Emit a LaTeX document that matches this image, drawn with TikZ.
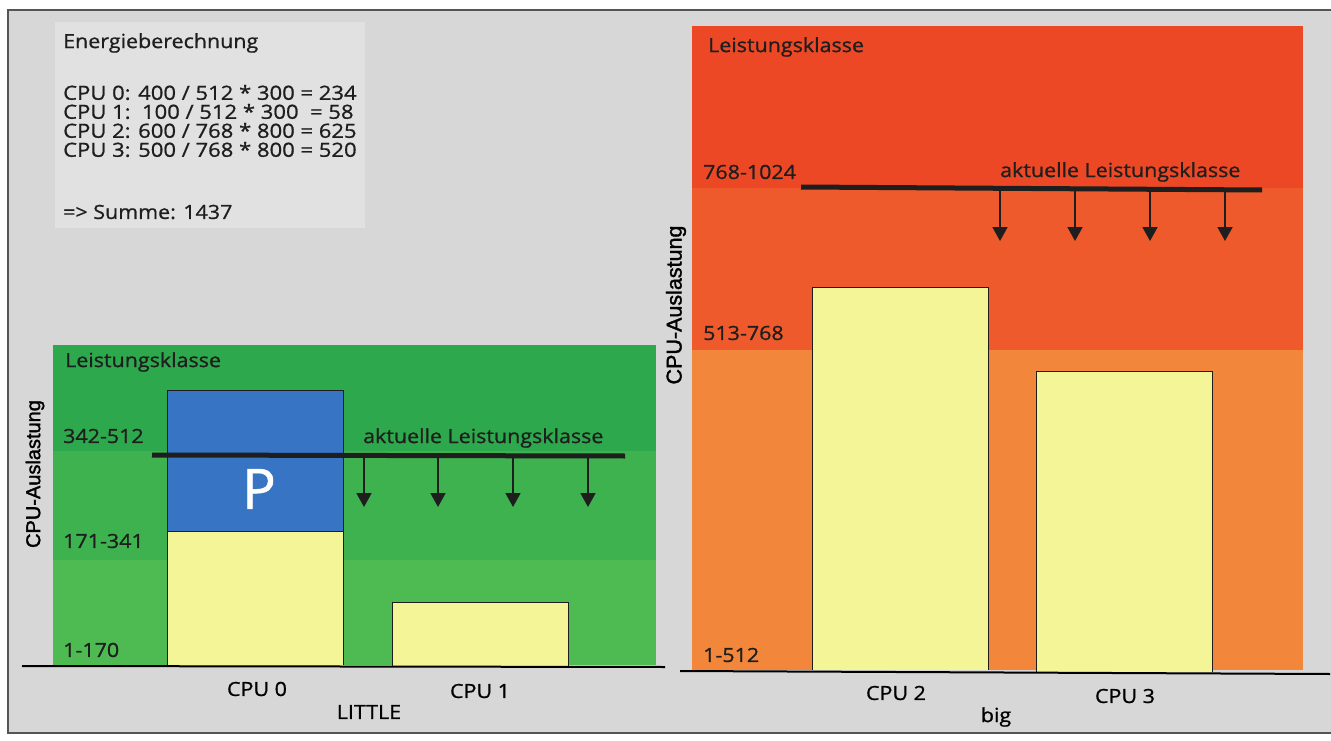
\documentclass[tikz,border=0pt]{standalone}
\usepackage{fontspec}
\setmainfont[FakeBold=0.9,FakeStretch=1.1]{Open Sans}
\newfontfamily\calcfont[FakeBold=0.9,FakeStretch=1.13]{Open Sans}
\newfontfamily\pfont[FakeBold=0.9]{Open Sans}
\newfontfamily\axisfont[FakeBold=1.6]{Liberation Sans}
\usetikzlibrary{arrows.meta}
\definecolor{bggray}{HTML}{D7D7D7}
\definecolor{boxgray}{HTML}{E1E1E1}
\definecolor{frame}{HTML}{555555}
\definecolor{gA}{HTML}{2EA84C}
\definecolor{gB}{HTML}{3DB24F}
\definecolor{gC}{HTML}{4DBB52}
\definecolor{oA}{HTML}{EC4826}
\definecolor{oB}{HTML}{EE5A2C}
\definecolor{oC}{HTML}{F2873C}
\definecolor{pblue}{HTML}{3774C4}
\definecolor{pyellow}{HTML}{F4F596}
\definecolor{ink}{HTML}{1E1E1E}
\tikzset{
  lbl/.style={anchor=west, inner sep=0pt, text=ink, font=\fontsize{19.5}{19.5}\selectfont},
  calc/.style={anchor=west, inner sep=0pt, text=ink, font=\calcfont\fontsize{19.5}{19}\selectfont},
  cpulbl/.style={inner sep=0pt, text=black, font=\fontsize{19.5}{19.5}\selectfont},
  axis/.style={inner sep=0pt, text=black, rotate=90, font=\axisfont\fontsize{20}{20}\selectfont},
  barbox/.style={draw=ink, line width=1pt},
  curline/.style={draw=ink, line width=5pt},
  downarrow/.style={draw=ink, line width=1.8pt, -{Triangle[width=15pt,length=14pt]}},
  baseline/.style={draw=black, line width=2pt}
}
\begin{document}
\begin{tikzpicture}[x=1pt,y=-1pt]
\useasboundingbox (0,0) rectangle (1331,741);
\fill[white] (0,0) rectangle (1331,741);
% background & frame
\fill[bggray] (8,10) rectangle (1331,733);
\draw[frame, line width=1.2pt] (1331,10) -- (8,10) -- (8,733) -- (1331,733);
% energy text box
\fill[boxgray] (55,22) rectangle (365,228);
\node[lbl] (title) at (63,43) {Energieberechnung};
\node[calc, align=left] (calcs) at (63,121) {CPU 0: 400 / 512 * 300 = 234\\
CPU 1:\ \ 100 / 512 * 300\ \ = 58\\
CPU 2: 600 / 768 * 800 = 625\\
CPU 3: 500 / 768 * 800 = 520};
\node[lbl] (sum) at (63,212) {=> Summe: 1437};

% ---------- LITTLE cluster ----------
\fill[gA] (53,345) rectangle (656,451);
\fill[gB] (53,451) rectangle (656,560);
\fill[gC] (53,560) rectangle (656,665);
\node[lbl] (lkL) at (65,362) {Leistungsklasse};
\node[lbl] (r3) at (63,436) {342-512};
\node[lbl] (r2) at (63,541) {171-341};
\node[lbl] (r1) at (63,650) {1-170};
\node[axis] (axL) at (35,474) {CPU-Auslastung};
% bars
\fill[pblue] (167,390) rectangle (343,531);
\fill[pyellow] (167,531) rectangle (343,665);
\draw[barbox] (167,665) -- (167,390) -- (343,390) -- (343,665);
\draw[barbox] (167,531) -- (343,531);
\node[inner sep=0pt, text=white, font=\pfont\fontsize{56}{56}\selectfont] (P) at (259,489) {P};
\draw[barbox, fill=pyellow] (392,667) -- (392,602) -- (568,602) -- (568,667);
% current class line
\coordinate (lineLa) at (152,455);
\coordinate (lineLb) at (625,456);
\draw[curline] (lineLa) -- (lineLb);
\node[lbl] (akL) at (363,438) {aktuelle Leistungsklasse};
\foreach \x [count=\i] in {364,438,513,588}{
  \coordinate (aLs\i) at (\x,456);
  \coordinate (aLe\i) at (\x,507);
  \draw[downarrow] (aLs\i) -- (aLe\i);
}
% baseline
\coordinate (bL1) at (22,666);
\coordinate (bL2) at (665,667);
\draw[baseline] (bL1) -- (bL2);
\node[cpulbl] (cpu0) at (257,689) {CPU 0};
\node[cpulbl] (cpu1) at (480,691) {CPU 1};
\node[cpulbl] (little) at (369,712) {LITTLE};

% ---------- big cluster ----------
\fill[oA] (692,26) rectangle (1303,188);
\fill[oB] (692,188) rectangle (1303,350);
\fill[oC] (692,350) rectangle (1303,670);
\node[lbl] (lkB) at (708,47) {Leistungsklasse};
\node[lbl] (R3) at (703,172) {768-1024};
\node[lbl] (R2) at (703,333) {513-768};
\node[lbl] (R1) at (703,655) {1-512};
\node[axis, font=\axisfont\fontsize{21.5}{21.5}\selectfont] (axB) at (676,305) {CPU-Auslastung};
% bars
\draw[barbox, fill=pyellow] (812,670) -- (812,287) -- (988,287) -- (988,670);
\draw[barbox, fill=pyellow] (1036,672) -- (1036,371) -- (1212,371) -- (1212,672);
% current class line
\coordinate (lineBa) at (801,187);
\coordinate (lineBb) at (1262,190);
\draw[curline] (lineBa) -- (lineBb);
\node[lbl] (akB) at (1000,172) {aktuelle Leistungsklasse};
\foreach \x [count=\i] in {1000,1075,1150,1225}{
  \coordinate (aBs\i) at (\x,189);
  \coordinate (aBe\i) at (\x,241);
  \draw[downarrow] (aBs\i) -- (aBe\i);
}
% baseline
\coordinate (bB1) at (680,671);
\coordinate (bB2) at (1330,674);
\draw[baseline] (bB1) -- (bB2);
\node[cpulbl] (cpu2) at (896,693) {CPU 2};
\node[cpulbl] (cpu3) at (1125,696) {CPU 3};
\node[cpulbl] (big) at (996,717) {big};
\end{tikzpicture}
\end{document}
